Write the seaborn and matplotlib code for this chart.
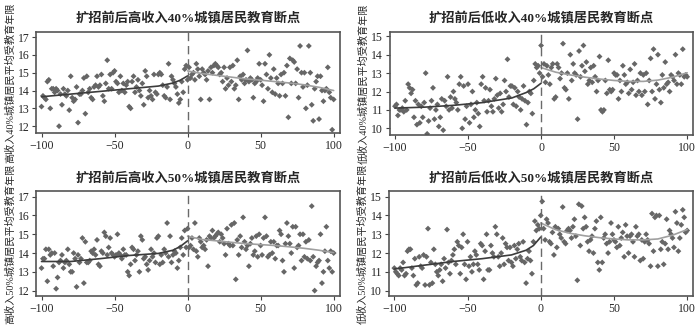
import numpy as np
import pandas as pd
import matplotlib
matplotlib.use("Agg")
import matplotlib.pyplot as plt
import seaborn as sns

# running variable: days relative to the cutoff
x_left = list(range(-100, 0))
x_right = list(range(0, 101))

titles = ["扩招前后高收入40%城镇居民教育断点", "扩招前后低收入40%城镇居民教育断点",
          "扩招前后高收入50%城镇居民教育断点", "扩招前后低收入50%城镇居民教育断点"]
ylabels = ["高收入40%城镇居民平均受教育年限", "低收入40%城镇居民平均受教育年限",
           "高收入50%城镇居民平均受教育年限", "低收入50%城镇居民平均受教育年限"]

# high income 40%
hi40_left = [13.1, 13.7, 13.6, 13.5, 14.5, 14.6, 13.0, 14.1, 14.1, 13.9,
             14.1, 14.0, 12.0, 13.8, 13.2, 14.1, 13.8, 13.7, 14.0, 12.9,
             14.8, 13.6, 13.4, 13.5, 14.2, 12.2, 13.8, 13.8, 14.0, 14.7,
             12.7, 14.8, 13.9, 14.1, 13.6, 13.5, 14.2, 14.3, 14.8, 14.2,
             14.3, 14.9, 13.7, 13.4, 14.4, 15.7, 14.1, 14.9, 14.1, 15.0,
             15.1, 14.5, 14.4, 13.9, 14.8, 14.0, 14.4, 13.9, 14.3, 14.5,
             13.1, 13.0, 14.5, 14.8, 13.9, 14.2, 14.6, 14.0, 13.7, 14.4,
             13.2, 15.1, 14.8, 13.6, 14.0, 13.7, 13.5, 14.9, 13.9, 13.8,
             14.9, 15.0, 14.9, 14.3, 13.7, 13.6, 14.2, 15.5, 13.5, 14.8,
             14.6, 14.4, 14.2, 13.8, 13.3, 13.5, 14.5, 13.9, 15.2, 15.4]
hi40_right = [14.6, 15.3, 14.7, 14.9, 15.0, 14.6, 15.5, 15.2, 14.8, 13.5,
              15.2, 15.0, 14.9, 14.6, 15.1, 13.5, 15.3, 15.0, 15.4, 15.5,
              15.4, 15.3, 14.9, 15.0, 14.5, 15.3, 14.1, 14.7, 14.3, 15.3,
              14.5, 15.4, 14.1, 14.3, 15.7, 13.5, 14.8, 14.6, 14.9, 14.4,
              14.6, 16.25, 14.5, 14.7, 14.6, 13.6, 14.4, 14.5, 14.7, 15.5,
              14.6, 14.3, 13.4, 15.5, 14.9, 14.1, 16.0, 14.7, 13.9, 15.2,
              13.8, 14.7, 14.4, 13.7, 14.9, 14.4, 15.0, 13.7, 15.4, 12.5,
              15.8, 14.4, 15.7, 15.6, 14.4, 15.2, 13.6, 16.5, 15.0, 14.2,
              15.0, 13.0, 14.3, 16.5, 15.0, 13.2, 12.3, 14.1, 14.5, 14.8,
              12.4, 14.8, 14.0, 13.4, 14.0, 14.1, 15.3, 13.9, 13.6, 11.8,
              13.5]

# low income 40%
lo40_left = [11.2, 11.3, 10.7, 11.0, 11.0, 11.1, 10.9, 11.5, 11.0, 12.4,
             12.2, 11.9, 12.1, 10.6, 11.5, 10.2, 11.3, 10.3, 11.2, 10.6,
             11.4, 13.0, 9.7, 10.4, 11.1, 11.5, 12.2, 10.5, 11.0, 11.3,
             10.1, 10.6, 11.6, 9.9, 11.5, 11.2, 12.8, 11.0, 11.7, 11.1,
             12.0, 11.6, 11.4, 11.0, 12.4, 12.8, 10.0, 12.3, 10.5, 11.2,
             12.4, 10.3, 11.3, 12.0, 10.6, 11.0, 11.4, 10.8, 10.1, 12.4,
             12.8, 11.5, 12.2, 10.9, 11.5, 12.1, 11.2, 10.9, 11.6, 12.7,
             11.8, 11.1, 11.9, 10.9, 11.3, 12.6, 12.0, 13.75, 11.7, 12.3,
             12.3, 11.3, 12.2, 11.2, 12.0, 11.7, 11.0, 11.6, 12.3, 11.5,
             10.2, 11.4, 12.0, 11.9, 10.8, 12.6, 13.5, 13.3, 13.4, 13.0]
lo40_right = [14.5, 12.8, 13.5, 12.5, 13.4, 12.9, 12.4, 13.3, 13.5, 11.6,
              11.7, 13.5, 13.3, 12.7, 13.0, 14.6, 12.2, 12.1, 13.0, 11.6,
              14.0, 12.6, 13.5, 13.0, 12.9, 10.5, 14.2, 12.8, 13.4, 14.5,
              13.1, 13.6, 12.4, 12.6, 13.3, 12.5, 13.4, 12.8, 12.0, 12.6,
              13.9, 11.0, 10.9, 11.0, 12.6, 11.9, 13.7, 12.1, 12.0, 12.1,
              13.0, 12.9, 12.9, 11.6, 12.6, 12.0, 13.4, 12.9, 12.4, 12.5,
              11.9, 13.2, 12.1, 12.5, 13.5, 11.8, 12.6, 12.0, 13.0, 11.8,
              12.9, 12.0, 13.0, 11.3, 12.6, 13.8, 12.0, 14.3, 11.6, 12.4,
              14.0, 12.1, 11.4, 12.9, 12.2, 13.6, 12.4, 12.5, 12.0, 12.9,
              12.8, 12.6, 14.0, 12.4, 13.0, 12.9, 12.4, 14.3, 12.8, 12.9,
              12.8]

# high income 50%
hi50_left = [13.2, 13.7, 13.7, 14.2, 12.5, 14.2, 13.9, 14.0, 13.3, 14.0,
             12.1, 12.7, 13.5, 13.6, 13.9, 13.2, 13.5, 13.6, 14.2, 13.4,
             13.0, 13.0, 14.0, 13.7, 12.2, 13.9, 13.5, 13.7, 14.8, 12.4,
             14.6, 13.5, 13.5, 13.6, 14.1, 14.0, 14.2, 13.9, 14.7, 13.4,
             13.3, 14.1, 14.0, 15.1, 14.9, 13.9, 14.3, 14.8, 14.0, 13.9,
             13.8, 13.9, 15.0, 14.0, 13.9, 13.7, 14.2, 13.9, 13.9, 13.0,
             12.8, 13.4, 14.3, 14.2, 13.6, 13.9, 14.1, 13.0, 14.9, 14.7,
             13.7, 13.8, 13.4, 13.1, 13.6, 14.2, 13.8, 14.0, 13.5, 14.8,
             14.9, 13.4, 13.9, 13.5, 14.2, 14.0, 15.6, 13.8, 14.9, 13.5,
             13.9, 14.1, 14.0, 13.2, 13.6, 14.3, 14.8, 13.9, 15.2, 14.3]
hi50_right = [15.3, 14.3, 14.4, 14.8, 14.2, 15.6, 14.1, 13.8, 14.8, 14.6,
              14.3, 14.4, 14.2, 14.7, 13.3, 14.9, 14.8, 15.2, 14.8, 14.9,
              15.0, 15.1, 14.6, 15.0, 14.8, 14.5, 13.9, 15.3, 14.5, 14.4,
              15.5, 14.4, 15.6, 12.6, 14.7, 13.9, 14.9, 14.3, 15.9, 14.6,
              14.2, 14.4, 13.3, 14.5, 14.8, 13.9, 14.1, 14.9, 13.8, 15.0,
              14.4, 13.9, 14.8, 15.9, 14.9, 13.8, 13.9, 14.6, 14.0, 14.6,
              13.7, 14.4, 14.4, 15.2, 15.0, 13.6, 13.0, 14.5, 15.6, 14.9,
              14.5, 14.0, 15.4, 13.2, 15.4, 14.3, 14.4, 15.0, 13.6, 15.0,
              13.8, 14.6, 13.7, 14.7, 13.6, 16.5, 13.8, 12.0, 13.3, 13.5,
              13.6, 15.0, 12.4, 13.0, 14.1, 15.4, 13.6, 13.2, 14.1, 13.0,
              14.0]

# low income 50%
lo50_left = [11.2, 11.0, 10.9, 10.8, 11.2, 11.1, 11.5, 10.8, 10.9, 12.1,
             12.2, 12.2, 11.2, 10.8, 11.7, 10.3, 10.4, 11.8, 11.3, 11.2,
             11.9, 10.3, 11.8, 13.3, 10.3, 11.5, 10.4, 12.2, 11.4, 11.0,
             10.8, 11.1, 11.4, 10.5, 11.7, 11.2, 13.25, 11.5, 10.9, 11.6,
             11.9, 12.2, 11.4, 12.6, 12.4, 10.9, 12.3, 13.0, 11.4, 10.6,
             12.6, 11.3, 11.8, 11.0, 11.4, 12.1, 11.9, 11.4, 11.1, 12.5,
             12.4, 10.6, 12.1, 13.0, 11.1, 11.1, 12.4, 12.0, 11.8, 13.4,
             13.0, 11.8, 11.3, 12.0, 12.8, 11.4, 12.5, 12.3, 11.6, 12.3,
             11.5, 11.3, 12.4, 11.7, 12.2, 12.5, 11.8, 11.6, 12.6, 11.5,
             10.4, 11.7, 12.1, 11.6, 10.9, 12.6, 13.7, 13.2, 13.5, 13.3]
lo50_right = [14.0, 14.75, 13.3, 12.7, 13.8, 13.6, 12.6, 12.5, 13.1, 11.9,
              13.4, 12.3, 13.3, 13.0, 12.8, 14.45, 12.6, 12.5, 13.2, 13.3,
              13.2, 12.8, 13.4, 13.8, 12.9, 10.55, 14.6, 12.4, 14.5, 13.3,
              13.9, 13.4, 12.6, 12.1, 12.7, 12.9, 12.0, 13.3, 13.7, 11.5,
              11.1, 13.9, 11.5, 12.8, 13.0, 12.5, 12.0, 12.6, 13.6, 13.0,
              12.7, 12.6, 12.3, 13.4, 12.4, 12.8, 13.1, 11.8, 13.5, 12.9,
              12.0, 12.9, 13.0, 12.6, 11.8, 13.4, 12.9, 13.0, 11.6, 12.7,
              11.7, 12.6, 13.0, 12.7, 12.5, 11.3, 14.1, 12.1, 13.9, 14.0,
              11.3, 14.0, 12.2, 12.6, 11.4, 12.5, 13.8, 12.2, 13.2, 13.0,
              12.8, 12.3, 14.2, 13.6, 12.1, 12.8, 13.5, 14.3, 13.9, 13.1,
              13.2]

# fitted curves
fit_x_left = [-100, -80, -60, -40, -20, -10, -5, 0]
fit_x_right = [0, 10, 20, 30, 40, 50, 60, 70, 80, 90, 100]
hi40_fit_left = [13.65, 13.8, 13.95, 14.1, 14.25, 14.42, 14.58, 14.82]
hi40_fit_right = [15.1, 14.95, 14.85, 14.75, 14.65, 14.58, 14.5, 14.42, 14.32, 14.18, 14.0]
lo40_fit_left = [11.1, 11.15, 11.25, 11.4, 11.65, 11.95, 12.15, 12.45]
lo40_fit_right = [13.3, 13.05, 12.9, 12.78, 12.68, 12.6, 12.55, 12.55, 12.62, 12.78, 13.02]
hi50_fit_left = [13.55, 13.55, 13.7, 13.87, 13.98, 14.15, 14.35, 14.65]
hi50_fit_right = [14.9, 14.72, 14.65, 14.57, 14.5, 14.45, 14.4, 14.33, 14.25, 14.15, 14.02]
lo50_fit_left = [11.15, 11.35, 11.55, 11.7, 11.9, 12.15, 12.4, 12.85]
lo50_fit_right = [13.6, 13.25, 13.05, 12.92, 12.82, 12.75, 12.7, 12.7, 12.75, 12.95, 13.25]

panels = [
    (hi40_left, hi40_right, hi40_fit_left, hi40_fit_right, (11.6, 17.3), [12, 13, 14, 15, 16, 17]),
    (lo40_left, lo40_right, lo40_fit_left, lo40_fit_right, (9.64, 15.25), [10, 11, 12, 13, 14, 15]),
    (hi50_left, hi50_right, hi50_fit_left, hi50_fit_right, (11.73, 17.3), [12, 13, 14, 15, 16, 17]),
    (lo50_left, lo50_right, lo50_fit_left, lo50_fit_right, (9.73, 15.3), [10, 11, 12, 13, 14, 15]),
]

sns.set_style("white")
plt.rcParams['font.family'] = ['Liberation Serif', 'Noto Sans CJK SC']
plt.rcParams['axes.unicode_minus'] = True

fig = plt.figure(figsize=(7, 3.3), dpi=100)
rects = [[0.052, 0.596, 0.433, 0.308], [0.557, 0.591, 0.433, 0.313],
         [0.052, 0.104, 0.433, 0.317], [0.556, 0.104, 0.434, 0.317]]

for i, (yl, yr, fl, fr, ylim, yticks) in enumerate(panels):
    ax = fig.add_axes(rects[i])
    df = pd.DataFrame({'x': x_left + x_right, 'y': yl + yr})
    sns.scatterplot(data=df, x='x', y='y', ax=ax, marker='D', s=9,
                    color='#666666', edgecolor='none', linewidth=0)
    sns.lineplot(x=fit_x_left, y=fl, ax=ax, color='#3c3c3c', lw=1.2)
    sns.lineplot(x=fit_x_right, y=fr, ax=ax, color='#a0a0a0', lw=1.2)
    ax.axvline(0, color='#6a6a6a', lw=1.0, ls=(0, (6, 3.5)))
    ax.set_xlim(-103.5, 104)
    ax.set_ylim(*ylim)
    ax.set_xticks([-100, -50, 0, 50, 100])
    ax.set_yticks(yticks)
    ax.tick_params(axis='both', labelsize=8.5, length=3, width=0.8,
                   direction='out', color='#444444', pad=2, left=True, bottom=True)
    for sp in ax.spines.values():
        sp.set_color('#555555')
        sp.set_linewidth(1.2)
    ax.set_xlabel('')
    ax.set_ylabel(ylabels[i], fontsize=7.3, labelpad=2)
    ax.set_title(titles[i], fontsize=9.5, fontweight='bold', pad=7)

fig.savefig('out.png', dpi=100)
